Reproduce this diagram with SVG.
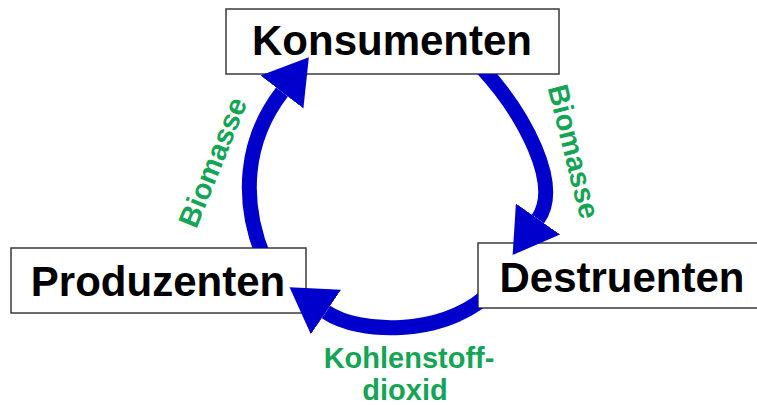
<svg xmlns="http://www.w3.org/2000/svg" width="757" height="405" viewBox="0 0 757 405">
  <defs>
    <style>
      .box { fill: #ffffff; stroke: #3a3a3a; stroke-width: 1.5; }
      .lbl { font-family: "Liberation Sans", Arial, sans-serif; font-weight: bold; font-size: 42px; fill: #000000; text-anchor: middle; }
      .flow { fill: none; stroke: #0000cc; stroke-width: 15; stroke-linecap: butt; marker-end: url(#ah); }
      .gl { font-family: "Liberation Sans", Arial, sans-serif; font-weight: bold; font-size: 29px; fill: #14a456; text-anchor: middle; }
    </style>
    <marker id="ah" viewBox="0 -28 46 56" refX="0" refY="0" markerWidth="46" markerHeight="56" orient="auto" markerUnits="userSpaceOnUse">
      <path d="M0,-27 L44,0 L0,27 Z" fill="#0000cc"/>
    </marker>
    <clipPath id="notP"><path clip-rule="evenodd" d="M0,0 H757 V405 H0 Z M11,248 H306 V313 H11 Z"/></clipPath>
    <clipPath id="notK"><path clip-rule="evenodd" d="M0,0 H757 V405 H0 Z M226,9 H559 V74 H226 Z"/></clipPath>
    <clipPath id="notD"><path clip-rule="evenodd" d="M0,0 H757 V405 H0 Z M478,243 H763 V308 H478 Z"/></clipPath>
  </defs>
  <rect width="757" height="405" fill="#ffffff"/>

  <g id="konsumenten">
    <rect class="box" x="226" y="9" width="333" height="65"/>
    <text class="lbl" x="392" y="55">Konsumenten</text>
  </g>
  <g id="destruenten">
    <rect class="box" x="478" y="243" width="285" height="65"/>
    <text class="lbl" x="622" y="292">Destruenten</text>
  </g>
  <g id="produzenten">
    <rect class="box" x="11" y="248" width="295" height="65"/>
    <text class="lbl" x="158" y="296">Produzenten</text>
  </g>

  <g id="connectors">
    <path id="c1" class="flow" clip-path="url(#notP)" d="M 264 258 C 240 200, 245 140, 282 92"/>
    <path id="c2" class="flow" clip-path="url(#notK)" d="M 482 68 C 525 115, 562 185, 538 219"/>
    <path id="c3" class="flow" clip-path="url(#notD)" d="M 484 298 C 440 335, 360 335, 326 312"/>
  </g>

  <g id="labels">
    <text class="gl" transform="translate(222,166) rotate(-68)">Biomasse</text>
    <text class="gl" transform="translate(564,154) rotate(76)">Biomasse</text>
    <text class="gl" x="409" y="368">Kohlenstoff-</text>
    <text class="gl" x="405" y="400">dioxid</text>
  </g>
</svg>
